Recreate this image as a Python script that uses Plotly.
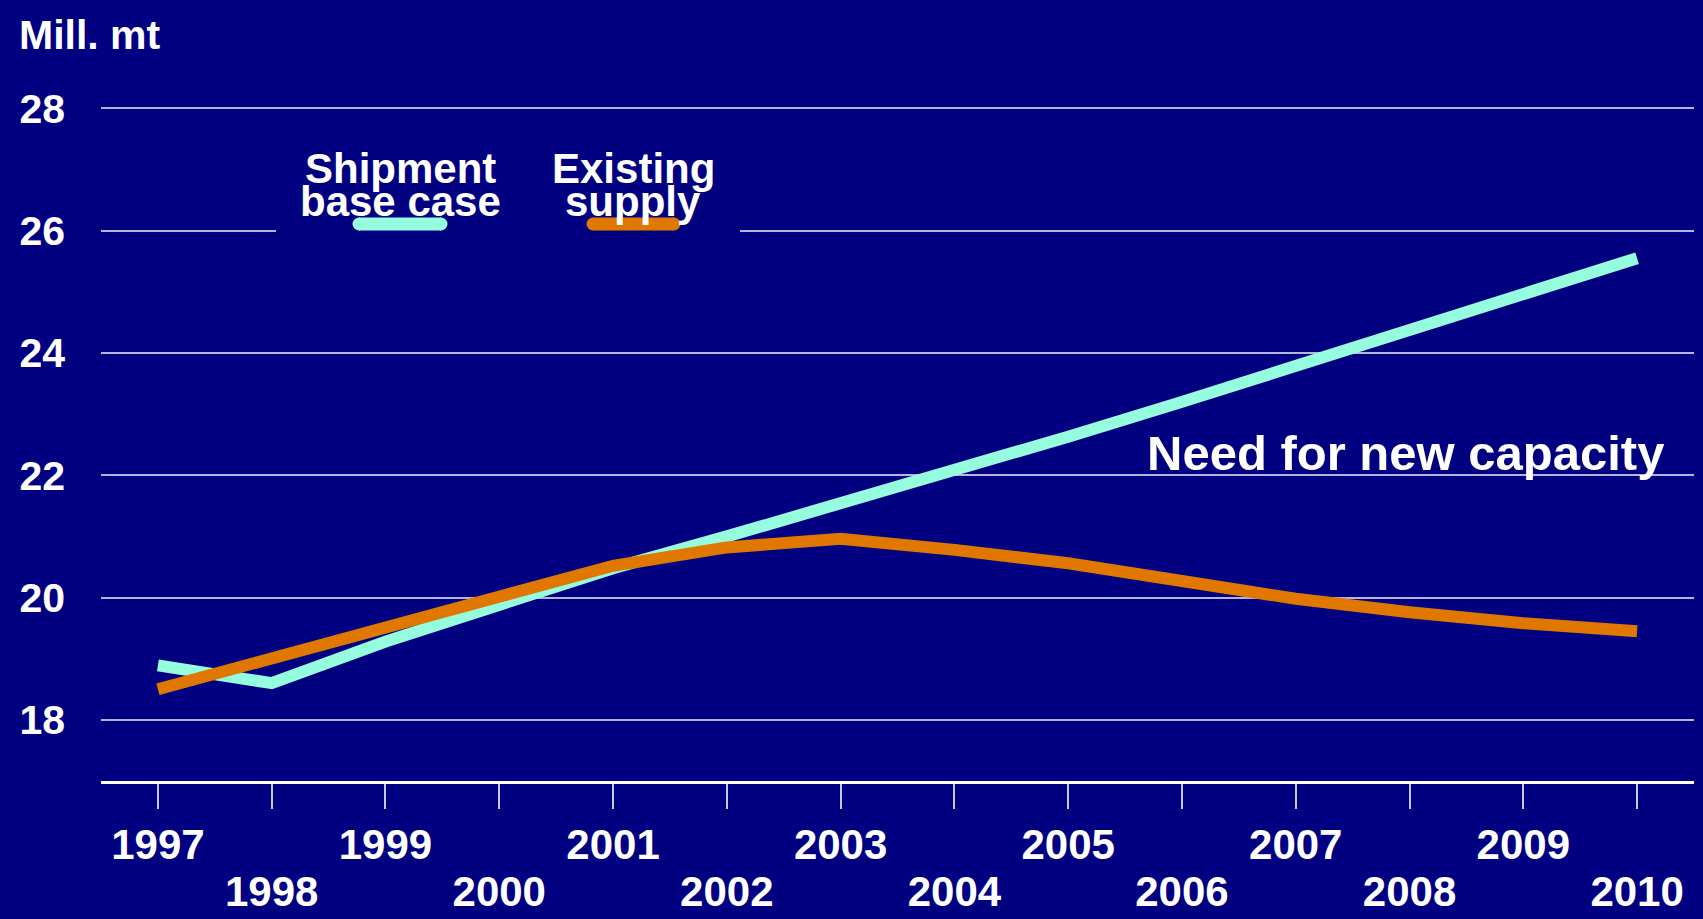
import plotly.graph_objects as go

years = list(range(1997, 2011))
shipment_base_case = [18.89, 18.60, 19.28, 19.90, 20.48, 21.00, 21.53, 22.08, 22.63, 23.20, 23.78, 24.37, 24.97, 25.55]
existing_supply = [18.50, 19.00, 19.52, 20.04, 20.52, 20.82, 20.96, 20.78, 20.56, 20.27, 19.98, 19.76, 19.58, 19.45]
y_ticks = [18, 20, 22, 24, 26, 28]
odd_years = [y for y in years if y % 2 == 1]
even_years = [y for y in years if y % 2 == 0]

NAVY = "#000080"
CYAN = "#96FCDE"
ORANGE = "#E07800"
FONT = "Liberation Sans"

fig = go.Figure()
fig.add_trace(go.Scatter(x=years, y=shipment_base_case, mode="lines",
                         line=dict(color=CYAN, width=12), name="Shipment base case",
                         showlegend=False))
fig.add_trace(go.Scatter(x=years, y=existing_supply, mode="lines",
                         line=dict(color=ORANGE, width=12), name="Existing supply",
                         showlegend=False))
# invisible trace to anchor the second x axis (even-year labels)
fig.add_trace(go.Scatter(x=[years[0], years[-1]], y=[None, None], xaxis="x2", yaxis="y",
                         mode="lines", showlegend=False, hoverinfo="skip"))

L, R, T, B = 101, 9, 90, 138
W, H = 1703, 919
plot_w = W - L - R
plot_h = H - T - B

def px_x(px):
    return (px - L) / plot_w

def px_y(py):
    return (H - B - py) / plot_h

tickfont = dict(family=FONT, size=42, color="white", weight="bold")

fig.update_layout(
    width=W, height=H,
    margin=dict(l=L, r=R, t=T, b=B, autoexpand=False),
    paper_bgcolor=NAVY, plot_bgcolor=NAVY,
    showlegend=False,
    xaxis=dict(range=[1996.5, 2010.5], tickvals=years,
               ticktext=[str(y) if y % 2 == 1 else "" for y in years],
               ticks="outside", ticklen=25, tickwidth=1.5, tickcolor="#C8C8E0",
               showgrid=False, zeroline=False, automargin=False,
               showline=True, linecolor="white", linewidth=3,
               tickfont=tickfont, ticklabelstandoff=0),
    xaxis2=dict(range=[1996.5, 2010.5], overlaying="x", side="bottom", anchor="y",
                tickvals=even_years, ticktext=[str(y) for y in even_years],
                ticks="", showgrid=False, zeroline=False, showline=False, automargin=False,
                tickfont=tickfont, ticklabelstandoff=82),
    yaxis=dict(range=[17, 28.3], tickvals=y_ticks, ticktext=[str(v) for v in y_ticks],
               ticks="", showgrid=True, gridcolor="#B4B4DC", gridwidth=1.5,
               zeroline=False, showline=False, automargin=False,
               tickfont=dict(family=FONT, size=41, color="white", weight="bold"),
               ticklabelstandoff=35),
)

# legend block (covers the gridline behind it)
fig.add_shape(type="rect", xref="paper", yref="paper",
              x0=px_x(276), x1=px_x(740), y0=px_y(245), y1=px_y(140),
              fillcolor=NAVY, line=dict(width=0), layer="above")
fig.add_shape(type="line", xref="paper", yref="paper",
              x0=px_x(359), x1=px_x(441), y0=px_y(224), y1=px_y(224),
              line=dict(color=CYAN, width=13), layer="above")
fig.add_shape(type="line", xref="paper", yref="paper",
              x0=px_x(593), x1=px_x(674), y0=px_y(224), y1=px_y(224),
              line=dict(color=ORANGE, width=13), layer="above")
for cx, col in [(359, CYAN), (441, CYAN), (593, ORANGE), (674, ORANGE)]:
    fig.add_shape(type="circle", xref="paper", yref="paper",
                  x0=px_x(cx - 6.5), x1=px_x(cx + 6.5), y0=px_y(230.5), y1=px_y(217.5),
                  fillcolor=col, line=dict(width=0), layer="above")

legend_font = dict(family=FONT, size=42, color="white", weight="bold")
for text, cx, cy in [("Shipment", 400, 169), ("base case", 400, 201),
                     ("Existing", 633, 169), ("supply", 633, 201)]:
    fig.add_annotation(text=text, xref="paper", yref="paper", x=px_x(cx), y=px_y(cy),
                       xanchor="center", yanchor="middle", showarrow=False, font=legend_font)

fig.add_annotation(text="Mill. mt", xref="paper", yref="paper", x=px_x(17), y=px_y(35),
                   xanchor="left", yanchor="middle", showarrow=False,
                   font=dict(family=FONT, size=41, color="white", weight="bold"))
fig.add_annotation(text="Need for new capacity", xref="paper", yref="paper",
                   x=px_x(1405), y=px_y(453), xanchor="center", yanchor="middle",
                   showarrow=False, font=dict(family=FONT, size=49, color="white", weight="bold"))

fig.write_html("out.html",
               config={"displayModeBar": False},
               post_script="document.body.style.margin='0';document.body.style.padding='0';"
                           "document.body.style.background='#000080';")
